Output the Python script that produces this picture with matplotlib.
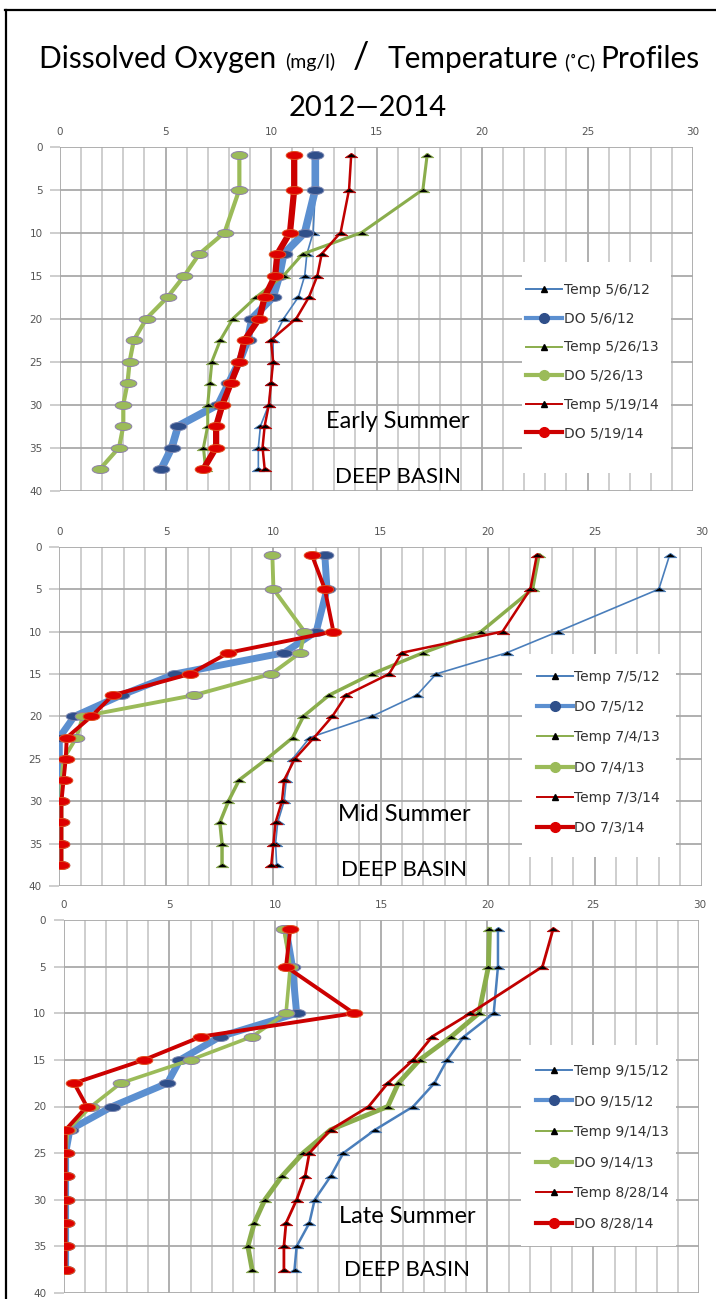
"""Dissolved oxygen / temperature depth profiles, deep basin, 2012-2014."""

import matplotlib

matplotlib.use("Agg")
import matplotlib.pyplot as plt
import numpy as np
from matplotlib.lines import Line2D
from matplotlib.patches import Rectangle
from matplotlib.path import Path
from matplotlib.ticker import MultipleLocator

DEPTH = [1, 5, 10, 12.5, 15, 17.5, 20, 22.5, 25, 27.5, 30, 32.5, 35, 37.5]

# early summer
EARLY_LABELS = ["Temp 5/6/12", "DO 5/6/12", "Temp 5/26/13", "DO 5/26/13", "Temp 5/19/14", "DO 5/19/14"]
TEMP_E12 = [12.1, 12.1, 12.0, 11.7, 11.6, 11.3, 10.6, 10.1, 10.1, 10.0, 9.9, 9.5, 9.4, 9.4]
DO_E12 = [12.1, 12.1, 11.6, 10.6, 10.4, 10.1, 9.1, 8.9, 8.5, 8.0, 7.5, 5.6, 5.3, 4.8]
TEMP_E13 = [17.4, 17.2, 14.3, 11.5, 10.6, 9.3, 8.2, 7.6, 7.2, 7.1, 7.0, 7.0, 6.8, 6.9]
DO_E13 = [8.5, 8.5, 7.8, 6.6, 5.9, 5.1, 4.1, 3.5, 3.3, 3.2, 3.0, 3.0, 2.8, 1.9]
TEMP_E14 = [13.8, 13.7, 13.3, 12.4, 12.2, 11.8, 11.2, 10.0, 10.1, 10.0, 9.9, 9.7, 9.6, 9.7]
DO_E14 = [11.1, 11.1, 10.9, 10.3, 10.2, 9.7, 9.45, 8.75, 8.5, 8.1, 7.7, 7.4, 7.4, 6.8]

# mid summer
MID_LABELS = ["Temp 7/5/12", "DO 7/5/12", "Temp 7/4/13", "DO 7/4/13", "Temp 7/3/14", "DO 7/3/14"]
TEMP_M12 = [28.5, 28.0, 23.3, 20.9, 17.6, 16.7, 14.6, 11.7, 10.9, 10.6, 10.5, 10.2, 10.1, 10.15]
DO_M12 = [12.4, 12.5, 12.0, 10.5, 5.4, 2.9, 0.7, 0.0, 0.0, 0.0, 0.0, 0.0, 0.0, 0.0]
TEMP_M13 = [22.4, 22.1, 19.7, 17.0, 14.6, 12.6, 11.4, 10.9, 9.7, 8.4, 7.9, 7.5, 7.6, 7.6]
DO_M13 = [9.95, 10.0, 11.45, 11.25, 9.9, 6.3, 1.1, 0.8, 0.2, 0.1, 0.1, 0.1, 0.1, 0.1]
TEMP_M14 = [22.3, 22.0, 20.7, 16.0, 15.4, 13.4, 12.75, 11.9, 11.0, 10.5, 10.4, 10.1, 10.0, 9.9]
DO_M14 = [11.8, 12.4, 12.8, 7.9, 6.1, 2.5, 1.5, 0.35, 0.3, 0.2, 0.1, 0.1, 0.1, 0.1]

# late summer
LATE_LABELS = ["Temp 9/15/12", "DO 9/15/12", "Temp 9/14/13", "DO 9/14/13", "Temp 8/28/14", "DO 8/28/14"]
TEMP_L12 = [20.5, 20.5, 20.3, 18.9, 18.1, 17.5, 16.5, 14.7, 13.2, 12.6, 11.85, 11.6, 11.0, 10.9]
DO_L12 = [10.5, 10.8, 11.0, 7.4, 5.5, 4.9, 2.3, 0.3, 0.1, 0.1, 0.1, 0.1, 0.1, 0.1]
TEMP_L13 = [20.1, 20.05, 19.6, 18.3, 16.8, 15.8, 15.3, 12.6, 11.3, 10.3, 9.5, 9.0, 8.7, 8.9]
DO_L13 = [10.4, 10.7, 10.5, 8.9, 6.0, 2.7, 1.3, 0.2, 0.1, 0.1, 0.1, 0.1, 0.1, 0.1]
TEMP_L14 = [23.1, 22.6, 19.2, 17.4, 16.5, 15.3, 14.4, 12.6, 11.6, 11.4, 11.0, 10.5, 10.4, 10.4]
DO_L14 = [10.7, 10.5, 13.7, 6.5, 3.8, 0.5, 1.1, 0.1, 0.1, 0.1, 0.1, 0.1, 0.1, 0.1]

BLUE_T, BLUE_DO, BLUE_MK = "#4a7ebb", "#5b8fd0", "#2f4f8a"
GREEN_T, GREEN_DO, GREEN_MK = "#8aad4c", "#9bbb59", "#9bbb59"
RED_T, RED_DO, RED_MK = "#c00000", "#cc0000", "#dd0000"
MK_EDGE = {"blue": "#7a86b0", "green": "#8e80a8", "red": "#e05020"}

TITLE_FONT = ["Lato", "DejaVu Sans"]


def _oval():
    t = np.linspace(0, 2 * np.pi, 41)
    return Path(np.column_stack([np.cos(t), 0.48 * np.sin(t)]), closed=True)


def _flat_tri():
    return Path([[-1, -0.35], [1, -0.35], [0, 0.35], [-1, -0.35]], closed=True)


OVAL, TRI = _oval(), _flat_tri()


def draw_panel(ax, series, labels, widths, season, text_x, text_y, box, leg_xy, leg_space):
    colors = [
        (BLUE_T, BLUE_DO, BLUE_MK, "blue"),
        (GREEN_T, GREEN_DO, GREEN_MK, "green"),
        (RED_T, RED_DO, RED_MK, "red"),
    ]
    handles = []
    for i, (temp, do) in enumerate(series):
        tc, dc, mc, key = colors[i]
        tw, dw = widths[i]
        ax.plot(temp, DEPTH, color=tc, lw=tw, marker=TRI, ms=9, mfc="black",
                mec=tc, mew=0.6, zorder=3 + 2 * i, solid_joinstyle="round")
        ax.plot(do, DEPTH, color=dc, lw=dw, marker=OVAL, ms=12, mfc=mc,
                mec=MK_EDGE[key], mew=0.7, zorder=4 + 2 * i, solid_joinstyle="round")
        handles.append(Line2D([], [], color=tc, lw=1.4, marker="^", ms=5, mfc="black", mec="black"))
        handles.append(Line2D([], [], color=dc, lw=3, marker="o", ms=7, mfc=mc, mec=mc))

    ax.set_xlim(0, 30)
    ax.set_ylim(40, 0)
    ax.xaxis.tick_top()
    ax.set_xticks(range(0, 31, 5))
    ax.set_yticks(range(0, 41, 5))
    ax.xaxis.set_minor_locator(MultipleLocator(1))
    ax.set_axisbelow(True)
    ax.grid(which="major", color="#a9a9a9", lw=1.3)
    ax.grid(which="minor", axis="x", color="#c6c6c6", lw=1.2)
    for s in ax.spines.values():
        s.set_visible(False)
    ax.tick_params(axis="x", which="both", length=0, pad=7, labelsize=7.5, labelcolor="#555555")
    ax.tick_params(axis="y", length=7.5, width=1.2, color="#c6c6c6", pad=5,
                   labelsize=7.5, labelcolor="#555555")

    x0, y0, x1, y1 = box
    ax.add_patch(Rectangle((x0, y0), x1 - x0, y1 - y0, facecolor="white",
                           edgecolor="none", zorder=1))
    ax.legend(handles, labels, loc="upper left", bbox_to_anchor=leg_xy,
              bbox_transform=ax.transData, frameon=False, borderpad=0,
              borderaxespad=0, handlelength=2.6, handletextpad=0.1,
              labelspacing=leg_space, prop={"size": 10}, labelcolor="#333333")

    ax.text(text_x, text_y[0], season, ha="center", va="center", fontsize=17,
            family=TITLE_FONT, color="black", zorder=10)
    ax.text(text_x, text_y[1], "DEEP BASIN", ha="center", va="center", fontsize=16,
            family=TITLE_FONT, color="black", zorder=10)


fig = plt.figure(figsize=(7.16, 12.99), dpi=100)
W, H = 716, 1299


def px_axes(left, right, top, bottom):
    return fig.add_axes([left / W, 1 - bottom / H, (right - left) / W, (bottom - top) / H])


ax1 = px_axes(60, 693, 146.5, 490.5)
ax2 = px_axes(59.3, 701.7, 546.7, 886)
ax3 = px_axes(63.5, 699.3, 920, 1293)

draw_panel(ax1, [(TEMP_E12, DO_E12), (TEMP_E13, DO_E13), (TEMP_E14, DO_E14)], EARLY_LABELS,
           [(1.2, 5.5), (2.2, 3.0), (1.8, 4.5)], "Early Summer", 16.0, (32.0, 38.4),
           (21.9, 13.4, 28.96, 38.0), (22.1, 15.9), 1.05)
draw_panel(ax2, [(TEMP_M12, DO_M12), (TEMP_M13, DO_M13), (TEMP_M14, DO_M14)], MID_LABELS,
           [(1.2, 5.0), (2.5, 2.8), (1.8, 2.8)], "Mid Summer", 16.1, (31.6, 38.1),
           (21.6, 12.6, 28.8, 36.6), (22.3, 14.5), 1.17)
draw_panel(ax3, [(TEMP_L12, DO_L12), (TEMP_L13, DO_L13), (TEMP_L14, DO_L14)], LATE_LABELS,
           [(1.8, 5.0), (3.5, 2.6), (2.0, 2.8)], "Late Summer", 16.2, (31.8, 37.5),
           (21.6, 13.4, 28.9, 35.0), (22.3, 15.4), 1.2)

# title, laid out piece by piece so the unit parts can be smaller
title_parts = [
    ("Dissolved Oxygen", 21.5, 9),
    ("(mg/l)", 14, 18),
    ("/", 26, 18),
    ("Temperature", 21.5, 6),
    ("(\u02daC)", 14, 5),
    ("Profiles", 21.5, 0),
]
renderer = fig.canvas.get_renderer()
texts, cursor = [], 0.0
for txt, size, gap in title_parts:
    t = fig.text(cursor / W, 1 - 68 / H, txt, fontsize=size, family=TITLE_FONT,
                 ha="left", va="baseline")
    cursor += t.get_window_extent(renderer).width + gap
    texts.append(t)
shift = 369 - cursor / 2
for t in texts:
    x, y = t.get_position()
    t.set_position((x + shift / W, y))
fig.text(368 / W, 1 - 116 / H, "2012\u20142014", fontsize=21, family=TITLE_FONT,
         ha="center", va="baseline")

# outer frame (top and left edges only are visible)
fig.add_artist(Line2D([5 / W, 1], [1 - 10 / H] * 2, color="black", lw=1.6, transform=fig.transFigure))
fig.add_artist(Line2D([6 / W] * 2, [0, 1 - 10 / H], color="black", lw=1.6, transform=fig.transFigure))

fig.savefig("out.png", dpi=100)
